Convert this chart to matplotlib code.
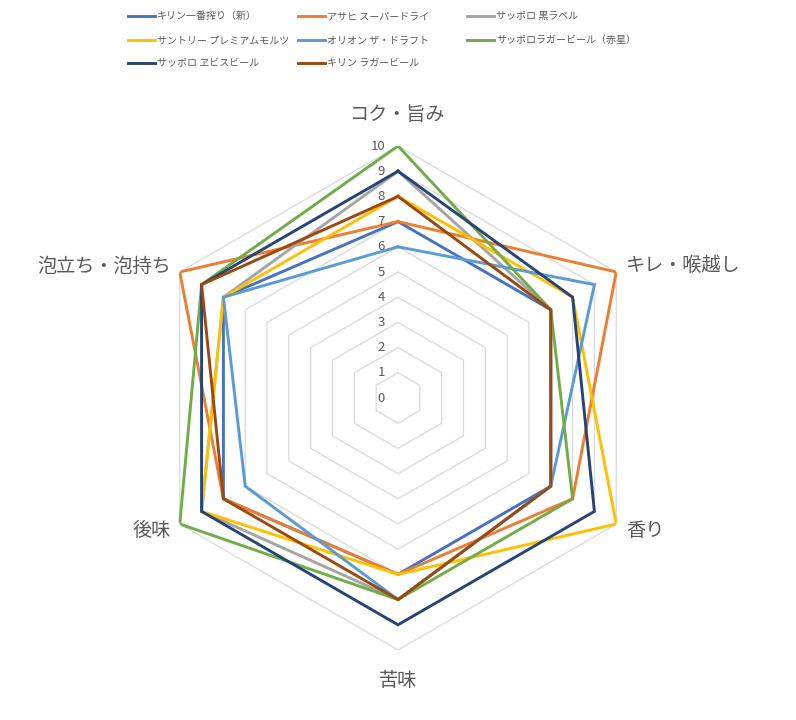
import numpy as np
import matplotlib
matplotlib.use("Agg")
import matplotlib.pyplot as plt
from matplotlib.lines import Line2D
from matplotlib.transforms import offset_copy

plt.rcParams['font.family'] = ['Noto Sans CJK JP', 'DejaVu Sans']

# Categories, clockwise from the top
categories = ["コク・旨み", "キレ・喉越し", "香り", "苦味", "後味", "泡立ち・泡持ち"]

series_names = ["キリン一番搾り（新）", "アサヒ スーパードライ", "サッポロ 黒ラベル",
                "サントリー プレミアムモルツ", "オリオン ザ・ドラフト", "サッポロラガービール（赤星）",
                "サッポロ ヱビスビール", "キリン ラガービール"]

kirin_ichiban = [7, 7, 7, 7, 8, 8]
asahi_dry = [7, 10, 8, 7, 8, 10]
sapporo_black = [9, 7, 7, 8, 9, 8]
suntory_premium = [8, 8, 10, 7, 9, 8]
orion_draft = [6, 9, 7, 8, 7, 8]
sapporo_akaboshi = [10, 7, 8, 8, 10, 9]
sapporo_yebisu = [9, 8, 9, 9, 9, 9]
kirin_lager = [8, 7, 7, 8, 8, 9]

series_values = [kirin_ichiban, asahi_dry, sapporo_black, suntory_premium,
                 orion_draft, sapporo_akaboshi, sapporo_yebisu, kirin_lager]

colors = ["#4472C4", "#ED7D31", "#A5A5A5", "#FFC000",
          "#5B9BD5", "#70AD47", "#264478", "#9E480E"]

levels = list(range(0, 11))
text_color = "#595959"

W, H = 796, 720
fig = plt.figure(figsize=(W / 100, H / 100), dpi=100)
cx, cy, R = 398, 720 - 398, 252
ax = fig.add_axes([(cx - R) / W, (cy - R) / H, 2 * R / W, 2 * R / H], projection="polar")
ax.set_theta_zero_location("N")
ax.set_theta_direction(-1)
ax.set_ylim(0, 10)
ax.grid(False)
ax.spines["polar"].set_visible(False)
ax.set_xticks([])
ax.set_yticks([])
ax.patch.set_alpha(0)

n = len(categories)
angles = np.linspace(0, 2 * np.pi, n, endpoint=False)
closed = np.append(angles, angles[0])

# hexagonal grid
for lv in levels[1:]:
    ax.plot(closed, [lv] * (n + 1), color="#D9D9D9", lw=0.9, zorder=1)

# radial value labels
trans = offset_copy(ax.transData, fig=fig, x=-13, y=0, units="dots")
for lv in levels:
    ax.text(0, lv, str(lv), transform=trans, ha="right", va="center",
            fontsize=9.5, color=text_color, zorder=5)

# series
lines = []
for name, vals, c in zip(series_names, series_values, colors):
    v = np.append(vals, vals[0])
    ln, = ax.plot(closed, v, color=c, lw=2.1, label=name, zorder=3,
                  solid_joinstyle="miter")
    lines.append(ln)

# category labels
label_pos = [(398, 114, "center"), (626, 265, "left"), (626, 530, "left"),
             (398, 680, "center"), (171, 530, "right"), (171, 266, "right")]
for cat, (x, y, ha) in zip(categories, label_pos):
    fig.text(x / W, 1 - y / H, cat, ha=ha, va="center", fontsize=13.8, color=text_color)

# legend, laid out like the Excel one (row by row, fixed columns)
col_x = [128, 298, 467]
row_y = [16, 40, 63]
for i, (name, c) in enumerate(zip(series_names, colors)):
    x0 = col_x[i % 3]
    y0 = 1 - row_y[i // 3] / H
    fig.add_artist(Line2D([x0 / W, (x0 + 27) / W], [y0, y0], color=c, lw=2.1,
                          transform=fig.transFigure))
    fig.text((x0 + 29) / W, y0, name, ha="left", va="center", fontsize=7.2,
             color=text_color)

fig.savefig("out.png", dpi=100, facecolor="white")
